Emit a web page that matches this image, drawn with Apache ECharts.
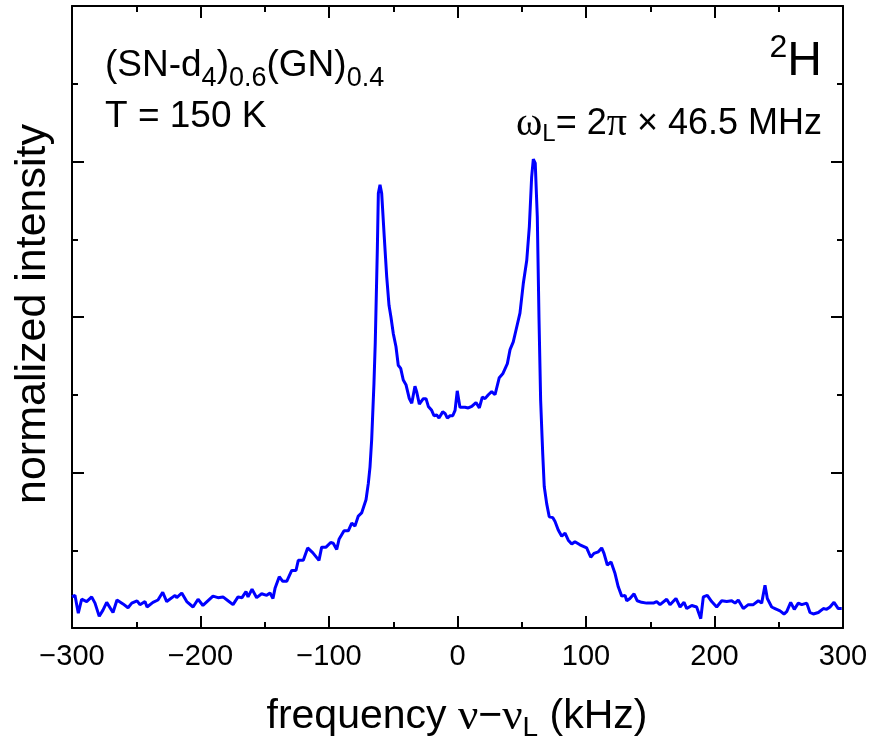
<!DOCTYPE html>
<html>
<head>
<meta charset="utf-8">
<script src="https://cdn.jsdelivr.net/npm/echarts@6/dist/echarts.min.js"></script>
<style>html,body{margin:0;padding:0;background:#fff}#c{width:872px;height:747px}</style>
</head>
<body>
<div id="c"></div>
<script>
// ---- data ----
const FREQ = [-300, -297.7, -295.1, -292.5, -288.6, -284.7, -282.1, -278.8, -275.9, -273.0, -268.1, -265.0, -260.3, -256.4, -253.5, -249.4, -247.1, -243.2, -241.6, -237.0, -233.1, -229.4, -226.3, -219.8, -218.5, -214.6, -210.7, -205.8, -201.9, -198.1, -190.3, -186.4, -182.5, -178.6, -174.7, -170.8, -167.7, -164.6, -163.0, -159.9, -156.3, -152.4, -148.5, -145.9, -143.6, -142.0, -138.7, -136.0, -132.9, -129.0, -125.7, -123.9, -120.0, -116.6, -112.7, -107.8, -105.7, -102.3, -98.7, -96.7, -94.0, -92.2, -88.3, -85.0, -82.3, -79.8, -77.2, -74.6, -71.2, -69.4, -68.1, -66.8, -65.0, -64.0, -62.4, -61.6, -60.3, -59.0, -57.0, -55.1, -53.3, -51.8, -50.0, -47.9, -46.1, -44.2, -42.2, -40.1, -37.5, -35.6, -34.4, -33.1, -31.8, -29.7, -26.6, -24.5, -22.7, -20.1, -18.3, -16.2, -14.4, -11.5, -9.7, -7.9, -5.8, -3.7, -1.9, -0.2, 1.9, 5.8, 8.4, 11.1, 14.4, 17.0, 19.3, 21.4, 24.0, 26.6, 29.2, 32.5, 35.2, 38.8, 40.9, 43.4, 45.5, 48.6, 51.2, 53.9, 55.9, 57.7, 59.0, 60.5, 62.1, 63.4, 64.7, 65.8, 66.3, 67.5, 69.4, 71.4, 74.1, 75.9, 78.4, 81.1, 83.7, 86.2, 88.9, 91.4, 95.3, 97.9, 100.5, 103.7, 106.2, 109.6, 112.2, 114.0, 116.6, 119.5, 122.6, 125.1, 127.8, 130.4, 131.7, 134.2, 137.4, 139.9, 143.3, 147.2, 152.4, 155.0, 157.6, 162.8, 165.4, 170.0, 173.2, 176.3, 178.4, 182.3, 186.1, 189.3, 191.3, 194.4, 197.8, 201.7, 205.6, 209.5, 213.4, 216.0, 218.5, 222.4, 226.3, 230.2, 234.1, 236.7, 239.3, 241.1, 244.5, 247.1, 251.0, 254.1, 256.2, 259.3, 262.1, 265.2, 267.9, 271.8, 274.3, 276.9, 280.8, 284.7, 287.3, 289.9, 293.0, 296.3, 299.0];
const INTENSITY = [0.40, 0.42, 0.19, 0.37, 0.34, 0.40, 0.32, 0.15, 0.23, 0.33, 0.20, 0.36, 0.31, 0.26, 0.32, 0.35, 0.30, 0.34, 0.27, 0.33, 0.36, 0.46, 0.34, 0.42, 0.39, 0.45, 0.34, 0.27, 0.37, 0.29, 0.41, 0.39, 0.40, 0.35, 0.30, 0.40, 0.39, 0.47, 0.40, 0.50, 0.39, 0.44, 0.42, 0.45, 0.38, 0.51, 0.66, 0.60, 0.60, 0.74, 0.74, 0.87, 0.87, 1.03, 0.97, 0.87, 1.04, 1.04, 1.10, 1.09, 1.01, 1.14, 1.25, 1.25, 1.35, 1.31, 1.44, 1.48, 1.65, 1.86, 2.07, 2.42, 3.15, 3.67, 4.86, 5.59, 5.70, 5.59, 5.03, 4.52, 4.15, 4.00, 3.79, 3.62, 3.38, 3.34, 3.19, 3.13, 2.95, 2.89, 2.91, 3.11, 3.04, 2.88, 2.95, 2.95, 2.85, 2.80, 2.73, 2.74, 2.70, 2.78, 2.76, 2.70, 2.73, 2.73, 2.80, 3.05, 2.84, 2.84, 2.83, 2.85, 2.90, 2.83, 2.97, 2.95, 3.00, 3.04, 3.00, 3.22, 3.27, 3.40, 3.58, 3.68, 3.83, 4.05, 4.43, 4.73, 5.16, 5.80, 6.03, 5.98, 5.29, 4.00, 2.93, 2.46, 2.25, 1.82, 1.60, 1.43, 1.42, 1.37, 1.26, 1.18, 1.22, 1.13, 1.08, 1.11, 1.07, 1.05, 1.03, 0.91, 0.96, 0.98, 1.03, 0.96, 0.81, 0.85, 0.70, 0.53, 0.41, 0.42, 0.35, 0.38, 0.44, 0.35, 0.33, 0.32, 0.32, 0.34, 0.30, 0.37, 0.30, 0.38, 0.27, 0.33, 0.25, 0.29, 0.27, 0.12, 0.40, 0.42, 0.34, 0.27, 0.35, 0.34, 0.35, 0.32, 0.36, 0.25, 0.30, 0.30, 0.35, 0.32, 0.55, 0.38, 0.27, 0.25, 0.22, 0.18, 0.21, 0.33, 0.24, 0.32, 0.30, 0.32, 0.20, 0.18, 0.20, 0.25, 0.24, 0.27, 0.33, 0.25, 0.25];
const X_RANGE = [-300, 300];
const X_STEP = 100;
const Y_RANGE = [0, 8];
const Y_STEP = 2;

// ---- layout helpers ----
const SANS = '"Liberation Sans", Arial, Helvetica, sans-serif';
const SERIF = '"Liberation Serif", "Times New Roman", serif';
const mctx = document.createElement('canvas').getContext('2d');
function run(parts, x, y, anchor) {
  const widths = parts.map(p => { mctx.font = p[1] + 'px ' + p[2]; return mctx.measureText(p[0]).width; });
  const total = widths.reduce((a, b) => a + b, 0);
  let cx = anchor === 'right' ? x - total : anchor === 'center' ? x - total / 2 : x;
  return parts.map((p, i) => {
    const el = { type: 'text', x: cx, y: y + p[3], silent: true,
      style: { text: p[0], fontSize: p[1], fontFamily: p[2], fill: '#000', align: 'left', verticalAlign: 'middle' } };
    cx += widths[i];
    return el;
  });
}

const n = Math.min(FREQ.length, INTENSITY.length);
const seriesData = [];
for (let i = 0; i < n; i++) seriesData.push([FREQ[i], INTENSITY[i]]);

const axisCommon = {
  type: 'value',
  axisLine: { show: true, onZero: false, lineStyle: { color: '#000', width: 2 } },
  axisTick: { show: true, inside: true, length: 12, lineStyle: { color: '#000', width: 2 } },
  minorTick: { show: true, splitNumber: 2, length: 6, lineStyle: { color: '#000', width: 2 } },
  splitLine: { show: false },
  minorSplitLine: { show: false }
};
const fmt = v => v < 0 ? '\u2212' + (-v) : String(v);

const graphics = []
  .concat(run([['(SN-d', 37, SANS, 0], ['4', 27, SANS, 13], [')', 37, SANS, 0], ['0.6', 27, SANS, 13], ['(GN)', 37, SANS, 0], ['0.4', 27, SANS, 13]], 105, 66, 'left'))
  .concat(run([['T = 150 K', 37, SANS, 0]], 105, 117, 'left'))
  .concat(run([['2', 32, SANS, -14], ['H', 48, SANS, 0]], 822, 62, 'right'))
  .concat(run([['\u03c9', 40, SERIF, 0], ['L', 24, SANS, 10], ['= 2', 36, SANS, 0], ['\u03c0', 40, SERIF, 0], [' \u00d7 46.5 MHz', 36, SANS, 0]], 822, 124, 'right'))
  .concat(run([['frequency ', 41, SANS, 0], ['\u03bd', 45, SERIF, 0], ['\u2212', 41, SANS, 0], ['\u03bd', 45, SERIF, 0], ['L', 28, SANS, 11], [' (kHz)', 41, SANS, 0]], 457, 717, 'center'));
graphics.push({ type: 'text', x: 33, y: 314, rotation: Math.PI / 2, silent: true,
  style: { text: 'normalized intensity', fontSize: 43, fontFamily: SANS, fill: '#000', align: 'center', verticalAlign: 'middle' } });

const chart = echarts.init(document.getElementById('c'), null, { renderer: 'canvas' });
chart.setOption({
  animation: false,
  backgroundColor: '#fff',
  grid: { left: 72, right: 29, top: 6, bottom: 119, containLabel: false },
  xAxis: [
    Object.assign({}, axisCommon, { position: 'bottom', min: X_RANGE[0], max: X_RANGE[1], interval: X_STEP,
      axisLabel: { show: true, fontSize: 29, fontFamily: SANS, color: '#000', margin: 14, formatter: fmt } }),
    Object.assign({}, axisCommon, { position: 'top', min: X_RANGE[0], max: X_RANGE[1], interval: X_STEP,
      axisLabel: { show: false } })
  ],
  yAxis: [
    Object.assign({}, axisCommon, { position: 'left', min: Y_RANGE[0], max: Y_RANGE[1], interval: Y_STEP, axisLabel: { show: false } }),
    Object.assign({}, axisCommon, { position: 'right', min: Y_RANGE[0], max: Y_RANGE[1], interval: Y_STEP, axisLabel: { show: false } })
  ],
  series: [{
    type: 'line', xAxisIndex: 0, yAxisIndex: 0, data: seriesData,
    showSymbol: false, symbol: 'none', smooth: false, clip: true,
    lineStyle: { color: '#0000ff', width: 3 }
  }],
  graphic: graphics
});
</script>
</body>
</html>
